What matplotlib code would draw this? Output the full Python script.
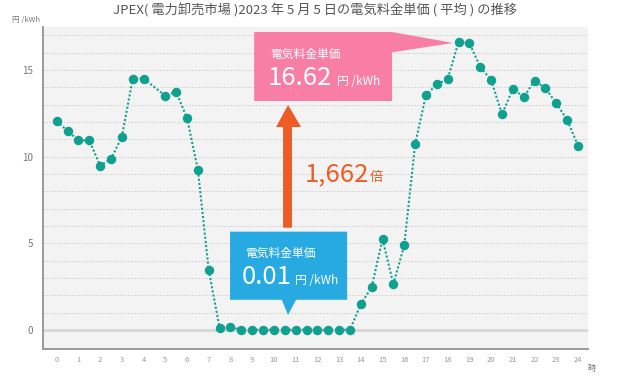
import matplotlib.pyplot as plt
from matplotlib.patches import Polygon
import numpy as np

plt.rcParams['font.family'] = ['Noto Sans CJK JP', 'DejaVu Sans']

# JEPX system price, 2023-05-05 (hour of day -> yen/kWh); no dot drawn at 4.5
hours = [0, 0.5, 1, 1.5, 2, 2.5, 3, 3.5, 4, 5, 5.5, 6, 6.5, 7, 7.5, 8,
         8.5, 9, 9.5, 10, 10.5, 11, 11.5, 12, 12.5, 13, 13.5, 14, 14.5, 15,
         15.5, 16, 16.5, 17, 17.5, 18, 18.5, 19, 19.5, 20, 20.5, 21, 21.5,
         22, 22.5, 23, 23.5, 24]
price = [12.05, 11.48, 10.94, 10.94, 9.48, 9.87, 11.15, 14.5, 14.5, 13.52,
         13.74, 12.22, 9.24, 3.43, 0.12, 0.17, 0.01, 0.01, 0.01, 0.01, 0.01,
         0.01, 0.01, 0.01, 0.01, 0.01, 0.01, 1.49, 2.47, 5.25, 2.64, 4.89,
         10.71, 13.56, 14.17, 14.48, 16.62, 16.54, 15.17, 14.42, 12.44, 13.92,
         13.43, 14.39, 13.94, 13.08, 12.12, 10.64]

title = "JPEX( 電力卸売市場 )2023 年 5 月 5 日の電気料金単価 ( 平均 ) の推移"
max_price = "16.62"
min_price = "0.01"
ratio = "1,662"

teal = "#10a08f"
pink = "#f97ea6"
blue = "#27a9e1"
orange = "#ee5b24"
gray_txt = "#777777"

fig = plt.figure(figsize=(6.18, 3.83), dpi=100)
ax = fig.add_axes([0.0696, 0.0888, 0.8819, 0.8407])
ax.set_facecolor("#f3f3f3")

ax.set_xlim(-0.63, 24.46)
ax.set_ylim(-1.1, 17.48)

for v in range(1, 18):
    ax.axhline(v, color="#cfcfcf", lw=0.7, ls=(0, (1.5, 1.5)), zorder=1)
ax.axhline(0, color="#d6d6d6", lw=2, zorder=1)

ax.plot(hours, price, color=teal, ls=(0, (1, 1)), lw=1.5, marker="o",
        markersize=5.8, zorder=5)

ax.set_xticks(range(0, 25))
ax.set_yticks([0, 5, 10, 15])
ax.tick_params(axis="x", length=0, labelsize=5.5, labelcolor="#999999", pad=5)
ax.tick_params(axis="y", length=0, labelsize=7, labelcolor=gray_txt, pad=7)
for s in ["top", "right"]:
    ax.spines[s].set_visible(False)
for s in ["left", "bottom"]:
    ax.spines[s].set_color("#9a9a9a")
    ax.spines[s].set_linewidth(1.4)

# pink callout (max)
ax.add_patch(Polygon([(9.09, 17.19), (15.44, 17.19), (18.25, 16.56),
                      (15.44, 16.02), (15.44, 13.21), (9.09, 13.21)],
                     closed=True, facecolor=pink, edgecolor="none", zorder=6))
ax.text(9.82, 15.69, "電気料金単価", color="white", fontsize=8.5,
        va="baseline", zorder=7)
ax.text(9.7, 14.13, max_price, color="white", fontsize=18.5, va="baseline", zorder=7)
ax.text(12.9, 14.13, "円 /kWh", color="white", fontsize=8.5, va="baseline", zorder=7)

# blue callout (min)
ax.add_patch(Polygon([(7.98, 5.67), (13.37, 5.67), (13.37, 1.74),
                      (11.02, 1.74), (10.65, 0.87), (10.36, 1.74), (7.98, 1.74)],
                     closed=True, facecolor=blue, edgecolor="none", zorder=6))
ax.text(8.67, 4.22, "電気料金単価", color="white", fontsize=8.5,
        va="baseline", zorder=7)
ax.text(8.5, 2.66, min_price, color="white", fontsize=18.5, va="baseline", zorder=7)
ax.text(10.95, 2.66, "円 /kWh", color="white", fontsize=8.5, va="baseline", zorder=7)

# orange arrow
ax.add_patch(Polygon([(10.42, 5.9), (10.83, 5.9), (10.83, 11.71), (11.25, 11.71),
                      (10.65, 12.98), (10.1, 11.71), (10.42, 11.71)],
                     closed=True, facecolor=orange, edgecolor="none", zorder=6))
ax.text(11.4, 8.6, ratio, color=orange, fontsize=18.5, va="baseline")
ax.text(14.4, 8.6, "倍", color=orange, fontsize=9.5, va="baseline")

fig.text(0.51, 0.974, title, ha="center", va="center", fontsize=9.5, color="#555555")
fig.text(0.02, 0.947, "円 /kWh", ha="left", va="center", fontsize=5.5, color=gray_txt)
fig.text(0.957, 0.039, "時", ha="center", va="center", fontsize=6, color=gray_txt)

fig.savefig("out.png", dpi=100)
